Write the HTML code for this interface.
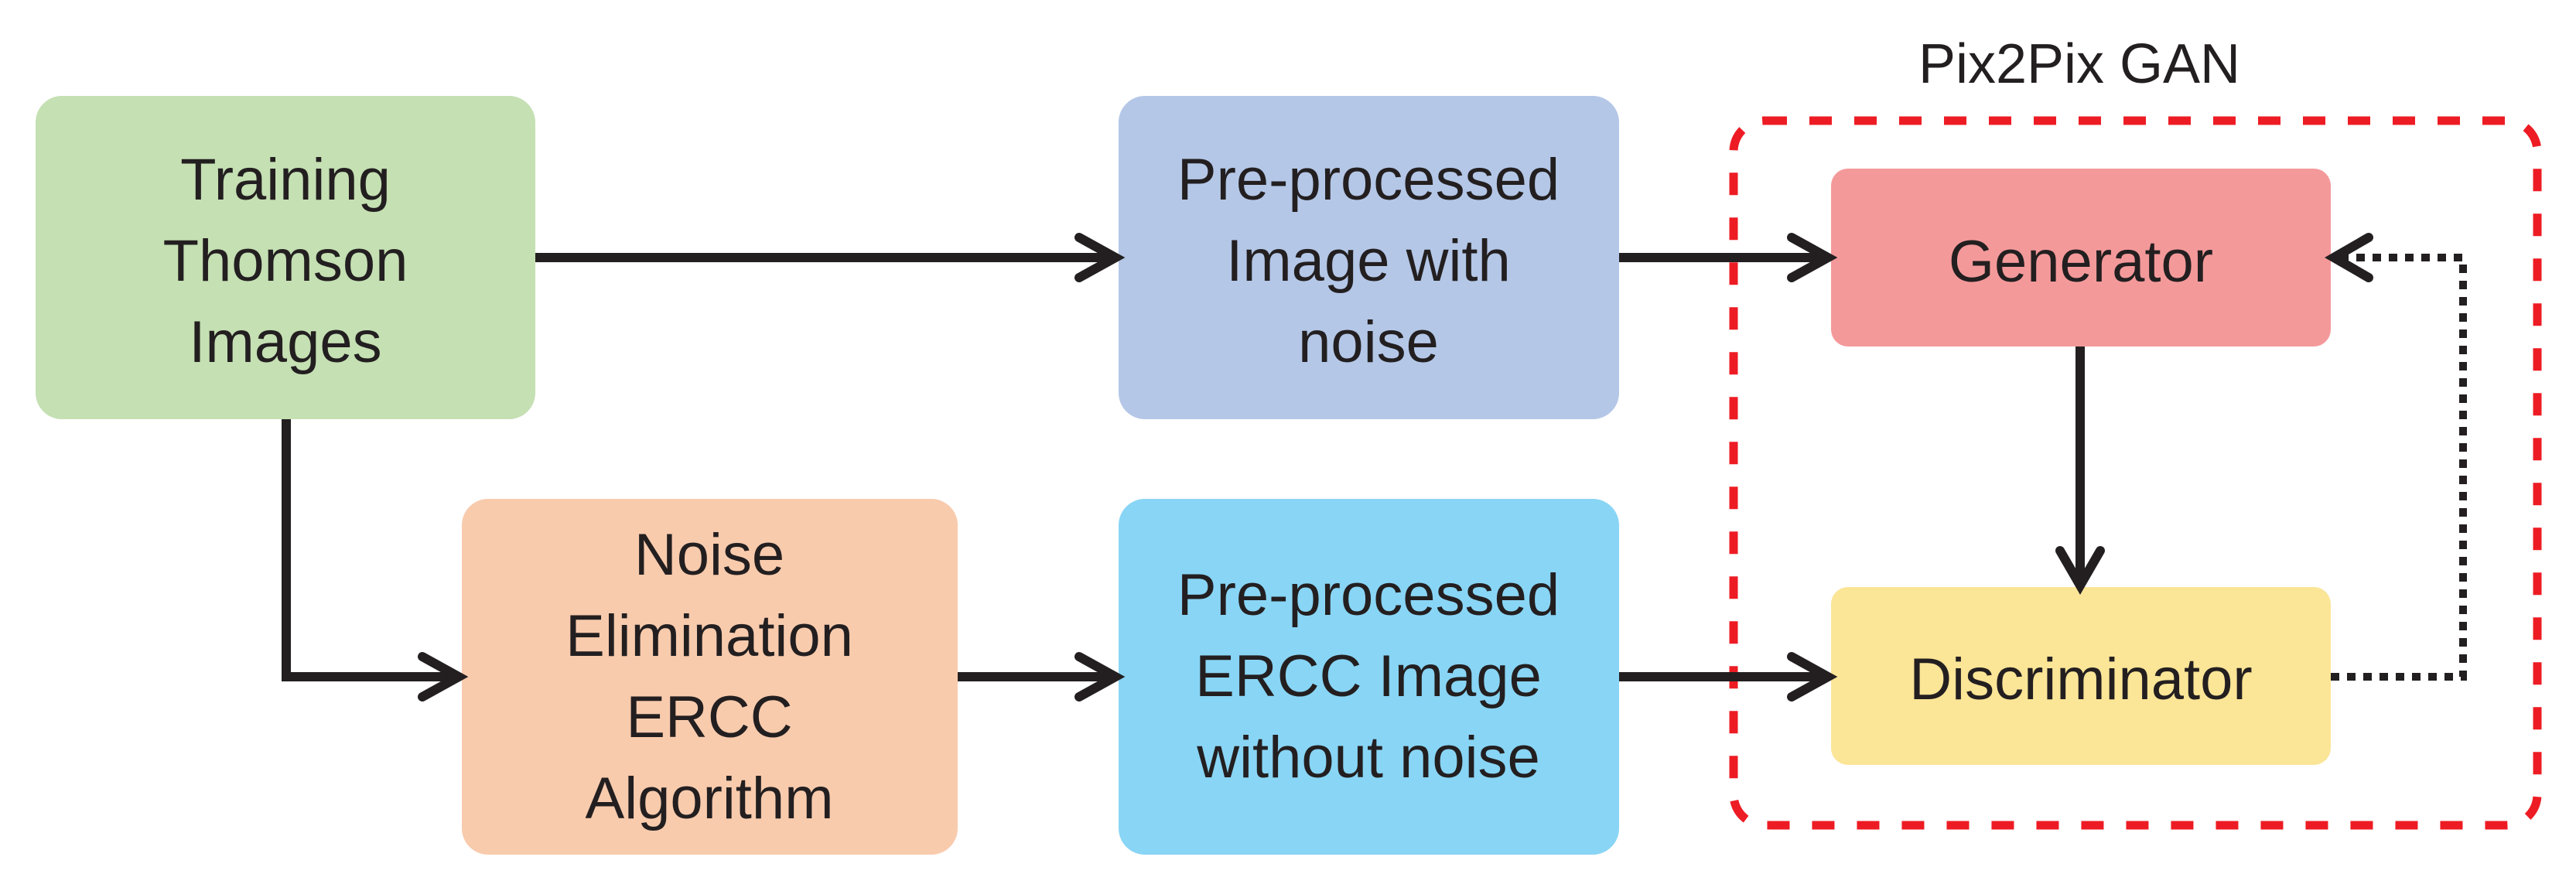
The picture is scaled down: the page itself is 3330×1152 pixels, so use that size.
<!DOCTYPE html>
<html><head><meta charset="utf-8"><style>
html,body{margin:0;padding:0;background:#fff;}
svg{display:block;}
text{font-family:"Liberation Sans",sans-serif;fill:#231f20;text-anchor:middle;}
</style></head><body>
<svg width="3330" height="1152" viewBox="0 0 3330 1152" xmlns="http://www.w3.org/2000/svg">
<rect x="46" y="124" width="646" height="418" rx="34" fill="#c5e0b3"/>
<rect x="1446" y="124" width="647" height="418" rx="34" fill="#b4c7e7"/>
<rect x="597" y="645" width="641" height="460" rx="34" fill="#f8cbad"/>
<rect x="1446" y="645" width="647" height="460" rx="34" fill="#89d5f5"/>
<rect x="2367" y="218" width="646" height="230" rx="22" fill="#f4999a"/>
<rect x="2367" y="759" width="646" height="230" rx="22" fill="#fbe597"/>
<rect x="2241" y="156" width="1039" height="911" rx="40" fill="none" stroke="#ed1c24" stroke-width="11" stroke-dasharray="29 29"/>
<g stroke="#231f20" stroke-width="12" fill="none" stroke-linecap="butt">
<line x1="692" y1="333" x2="1440" y2="333"/>
<line x1="2093" y1="333" x2="2361" y2="333"/>
<polyline points="370,542 370,875 591,875"/>
<line x1="1238" y1="875" x2="1440" y2="875"/>
<line x1="2093" y1="875" x2="2361" y2="875"/>
<line x1="2689" y1="448" x2="2689" y2="752"/>
</g>
<g stroke="#231f20" stroke-width="12" fill="none" stroke-linecap="round" stroke-linejoin="miter">
<polyline points="1395,307 1442,333 1395,359"/>
<polyline points="2316,307 2363,333 2316,359"/>
<polyline points="546,849 593,875 546,901"/>
<polyline points="1395,849 1442,875 1395,901"/>
<polyline points="2316,849 2363,875 2316,901"/>
<polyline points="2663,712 2689,757 2715,712"/>
<polyline points="3062,307 3017,333 3062,359"/>
</g>
<polyline points="3013,875 3184,875 3184,333 3020,333" fill="none" stroke="#231f20" stroke-width="10" stroke-dasharray="11 10"/>
<g font-size="76">
<text x="369" y="258">Training</text>
<text x="369" y="363">Thomson</text>
<text x="369" y="468">Images</text>
<text x="1769" y="258">Pre-processed</text>
<text x="1769" y="363">Image with</text>
<text x="1769" y="468">noise</text>
<text x="917" y="743">Noise</text>
<text x="917" y="848">Elimination</text>
<text x="917" y="953">ERCC</text>
<text x="917" y="1058">Algorithm</text>
<text x="1769" y="795">Pre-processed</text>
<text x="1769" y="900">ERCC Image</text>
<text x="1769" y="1005">without noise</text>
<text x="2690" y="364">Generator</text>
<text x="2690" y="904">Discriminator</text>
</g>
<text x="2688" y="107" font-size="72">Pix2Pix GAN</text>
</svg>
</body></html>
